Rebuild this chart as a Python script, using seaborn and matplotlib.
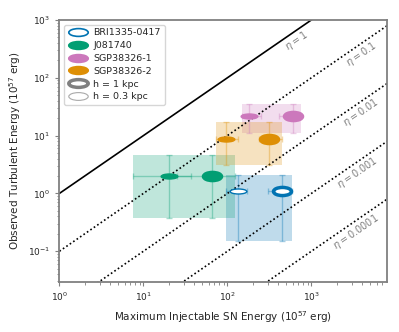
import numpy as np
import matplotlib
matplotlib.use("Agg")
import matplotlib.pyplot as plt
import seaborn as sns
from matplotlib.markers import MarkerStyle
from matplotlib.transforms import Affine2D
from matplotlib.lines import Line2D

# --- data (units of 1e57 erg) ---
galaxies = ["BRI1335-0417", "J081740", "SGP38326-1", "SGP38326-2"]
# h = 1 kpc
e_sn_1kpc = [442, 66, 597, 315]
e_sn_1kpc_lo = [306, 25, 415, 240]
e_sn_1kpc_hi = [591, 123, 743, 442]
# h = 0.3 kpc
e_sn_03kpc = [132, 20, 180, 95]
e_sn_03kpc_lo = [95, 7.5, 148, 73]
e_sn_03kpc_hi = [171, 37, 250, 133]
# observed turbulent energy (same for both h)
e_turb = [1.08, 1.96, 21.9, 8.8]
e_turb_lo = [0.149, 0.38, 10.9, 3.1]
e_turb_hi = [2.1, 4.65, 35.6, 17.4]

etas = [1, 0.1, 0.01, 0.001, 0.0001]
eta_labels = ["$\\eta = 1$", "$\\eta = 0.1$", "$\\eta = 0.01$", "$\\eta = 0.001$", "$\\eta = 0.0001$"]

sns.set_style("white")
plt.rcParams["font.family"] = ["DejaVu Sans"]
pal = sns.color_palette("colorblind")
colors = {"BRI1335-0417": pal[0], "J081740": pal[2], "SGP38326-1": pal[4], "SGP38326-2": pal[1]}

fig = plt.figure(figsize=(3.99, 3.32), dpi=100)
ax = fig.add_axes([0.149, 0.151, 0.821, 0.789])

# eta lines
xx = np.logspace(0, 4, 50)
for eta in etas:
    if eta == 1:
        ax.plot(xx, eta * xx, color="black", lw=1.2)
    else:
        ax.plot(xx, eta * xx, color="black", lw=1.2, ls=(0, (1, 1.5)))

label_x = [670, 3900, 3850, 3500, 3350]
for eta, lab, lx in zip(etas, eta_labels, label_x):
    ax.text(lx, eta * lx * 0.64, lab, rotation=34.6, color="gray", fontsize=7,
            ha="center", va="center", rotation_mode="anchor")

big = MarkerStyle(MarkerStyle("o").get_path(), transform=Affine2D().scale(1, 0.45))
small = MarkerStyle(MarkerStyle("o").get_path(), transform=Affine2D().scale(1, 0.3))

for i, g in enumerate(galaxies):
    c = colors[g]
    face = "white" if g == "BRI1335-0417" else c
    # shaded box
    x0 = min(e_sn_03kpc_lo[i], e_sn_1kpc_lo[i])
    x1 = max(e_sn_03kpc_hi[i], e_sn_1kpc_hi[i])
    ax.fill_between([x0, x1], e_turb_lo[i], e_turb_hi[i], color=c, alpha=0.25, lw=0)
    for xs, lo, hi, mk, lw, ms in [(e_sn_1kpc, e_sn_1kpc_lo, e_sn_1kpc_hi, big, 2.5, 13),
                                   (e_sn_03kpc, e_sn_03kpc_lo, e_sn_03kpc_hi, small, 1.0, 12)]:
        ax.errorbar(xs[i], e_turb[i],
                    xerr=[[xs[i] - lo[i]], [hi[i] - xs[i]]],
                    yerr=[[e_turb[i] - e_turb_lo[i]], [e_turb_hi[i] - e_turb[i]]],
                    fmt="none", ecolor=c, alpha=0.35, elinewidth=1, capsize=2)
        ax.plot(xs[i], e_turb[i], ls="none", marker=mk, markersize=ms,
                markerfacecolor=face, markeredgecolor=c, markeredgewidth=lw, zorder=5)

ax.set_xscale("log")
ax.set_yscale("log")
ax.set_xlim(1, 10 ** 3.9)
ax.set_ylim(10 ** -1.53, 1000)
ax.set_xlabel("Maximum Injectable SN Energy ($10^{57}$ erg)", fontsize=7.5)
ax.set_ylabel("Observed Turbulent Energy ($10^{57}$ erg)", fontsize=7.5)
ax.tick_params(labelsize=6.5, which="major", length=3, color="gray")
ax.tick_params(which="minor", length=1.8, color="gray")
ax.tick_params(bottom=True, left=True, which="both")
for s in ax.spines.values():
    s.set_color("gray")
    s.set_linewidth(1.3)

# legend
leg_mk = MarkerStyle(MarkerStyle("o").get_path(), transform=Affine2D().scale(1, 0.4))
handles = []
for g in galaxies:
    c = colors[g]
    face = "white" if g == "BRI1335-0417" else c
    handles.append(Line2D([], [], ls="none", marker=leg_mk, markersize=14,
                          markerfacecolor=face, markeredgecolor=c, markeredgewidth=1.2))
handles.append(Line2D([], [], ls="none", marker=leg_mk, markersize=14,
                      markerfacecolor="white", markeredgecolor="gray", markeredgewidth=2.5))
handles.append(Line2D([], [], ls="none", marker=leg_mk, markersize=14,
                      markerfacecolor="white", markeredgecolor="darkgray", markeredgewidth=0.8))
ax.legend(handles, galaxies + ["h = 1 kpc", "h = 0.3 kpc"], loc="upper left",
          fontsize=6.8, handlelength=2.2, labelspacing=0.4, borderpad=0.4,
          handletextpad=0.5, frameon=True)

fig.savefig("out.png", dpi=100)
